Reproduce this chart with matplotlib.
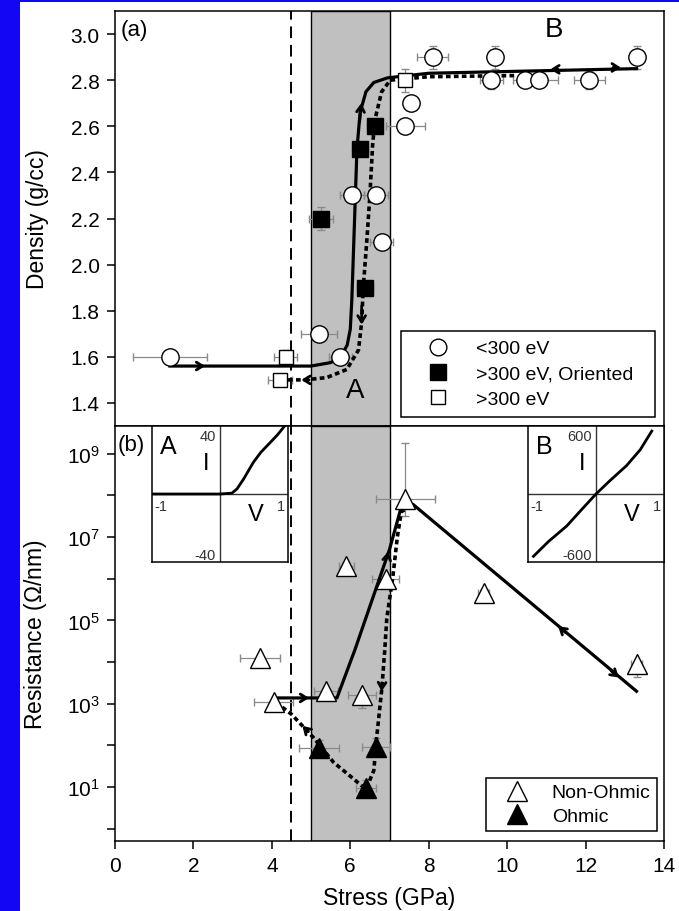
## density and resistance of carbon films vs stress, two stacked panels
import numpy as np
from matplotlib import pyplot as plt
from matplotlib.lines import Line2D
from matplotlib.patches import Rectangle

plt.rcParams['font.family'] = ['Liberation Sans', 'DejaVu Sans']
plt.rcParams['mathtext.fontset'] = 'custom'
plt.rcParams['mathtext.rm'] = 'Liberation Sans'
plt.rcParams['mathtext.it'] = 'Liberation Sans:italic'

## ---- panel (a): density ----
## <300 eV (open circles)
circ_x = [1.4, 5.2, 5.75, 6.05, 6.65, 6.8, 7.4, 7.55, 8.1, 9.7, 13.3, 9.6, 10.45, 10.8, 12.1]
circ_y = [1.6, 1.7, 1.6, 2.3, 2.3, 2.1, 2.6, 2.7, 2.9, 2.9, 2.9, 2.8, 2.8, 2.8, 2.8]
circ_xerr = [0.95, 0.45, 0.3, 0.3, 0.3, 0.3, 0.5, 0.1, 0.4, 0.0, 0.0, 0.3, 0.3, 0.5, 0.4]
circ_yerr = [0, 0, 0, 0.03, 0.03, 0, 0, 0, 0.05, 0.05, 0.05, 0.04, 0, 0, 0.04]
## >300 eV oriented (filled squares)
fsq_x = [5.25, 6.25, 6.62, 6.38]
fsq_y = [2.2, 2.5, 2.6, 1.9]
fsq_xerr = [0.3, 0.2, 0.2, 0.2]
fsq_yerr = [0.05, 0.03, 0.03, 0.03]
## >300 eV (open squares)
osq_x = [4.35, 4.21, 7.4]
osq_y = [1.6, 1.5, 2.8]
osq_xerr = [0.3, 0.3, 0.0]
osq_yerr = [0.03, 0.0, 0.05]

## guide curves (loading = solid, unloading = dotted)
load_a_x = [1.4, 5.0, 5.5, 5.75, 5.92, 6.0, 6.04, 6.08, 6.13, 6.17, 6.25, 6.4, 6.6, 6.95, 8.0, 13.3]
load_a_y = [1.56, 1.56, 1.575, 1.6, 1.65, 1.72, 1.85, 2.05, 2.3, 2.5, 2.66, 2.75, 2.79, 2.81, 2.83, 2.85]
unl_a_x = [4.21, 4.83, 5.4, 5.91, 6.21, 6.29, 6.33, 6.42, 6.5, 6.57, 6.63, 6.8, 7.02, 8.0, 10.2]
unl_a_y = [1.5, 1.5, 1.51, 1.545, 1.63, 1.75, 1.9, 2.1, 2.3, 2.52, 2.63, 2.75, 2.8, 2.815, 2.82]

## ---- panel (b): resistance (log10 of ohm/nm) ----
nonohm_x = [3.7, 4.05, 5.38, 6.3, 5.9, 6.9, 7.4, 9.4, 13.3]
nonohm_logr = [4.1, 3.05, 3.3, 3.2, 6.3, 6.0, 7.9, 5.65, 3.95]
nonohm_xerr = [0.5, 0.5, 0.3, 0.35, 0.2, 0.35, 0.75, 0.15, 0.15]
nonohm_dlo = [0.0, 0.0, 0.0, 0.3, 0.1, 0.0, 0.4, 0.1, 0.3]
nonohm_dhi = [0.0, 0.0, 0.0, 0.0, 0.1, 0.0, 1.35, 0.1, 0.0]
ohm_x = [5.2, 6.4, 6.65]
ohm_logr = [1.93, 0.97, 1.97]
ohm_xerr = [0.5, 0.25, 0.35]

load_b_x = [4.12, 5.66, 6.12, 7.0, 7.3, 7.6, 13.3]
load_b_logr = [3.14, 3.14, 4.3, 6.7, 7.72, 7.78, 3.3]
unl_b_x = [7.55, 7.3, 7.2, 7.09, 6.93, 6.88, 6.8, 6.67, 6.6, 6.4, 5.57, 5.05, 4.5, 4.15]
unl_b_logr = [7.75, 7.6, 7.0, 6.08, 5.04, 4.3, 3.32, 2.17, 1.4, 0.95, 1.6, 2.2, 2.75, 3.0]

## I-V insets
ivA_v = [-1.0, 0.0, 0.175, 0.25, 0.35, 0.49, 0.6, 0.72, 0.85, 0.95]
ivA_i = [0.0, 0.0, 0.5, 3.0, 9.0, 18.6, 24.5, 29.5, 35.0, 40.0]
ivB_v = [-0.92, -0.7, -0.43, -0.2, 0.0, 0.2, 0.45, 0.65, 0.82]
ivB_i = [-550, -420, -282, -130, 0, 115, 251, 390, 555]

ecol = '#8a8a8a'
dot = (0, (1.3, 0.9))

fig = plt.figure(figsize=(6.79, 9.12), dpi=100, facecolor='#1206f5')
fig.patches.append(Rectangle((20/679, 0), 1, 909/912, transform=fig.transFigure,
                             facecolor='white', edgecolor='none', zorder=-1))

axa = fig.add_axes([115/679, 1-427/912, 549/679, 415/912])
axb = fig.add_axes([115/679, 1-842/912, 549/679, 415/912])

def arrow(ax, x, y, dx, dy):
    ax.annotate('', xy=(x, y), xytext=(x-dx, y-dy),
                arrowprops=dict(arrowstyle='->,head_length=0.45,head_width=0.28',
                                lw=2, color='k', shrinkA=0, shrinkB=0), zorder=6)

for ax in (axa, axb):
    ax.axvspan(5, 7, facecolor='#c0c0c0', edgecolor='k', lw=1, zorder=0)
    ax.axvline(4.5, color='k', lw=1.4, ls=(0, (6, 3.5)), zorder=1)
    ax.set_xlim(0, 14)
    for s in ax.spines.values():
        s.set_linewidth(1.1)
    ax.tick_params(direction='out', length=5.5, width=1.1, pad=5.5, labelsize=15,
                   right=False, top=False)
    ax.yaxis.set_label_coords(-0.12, 0.5)

## panel (a)
axa.set_ylim(1.3, 3.1)
axa.set_yticks(np.arange(1.4, 3.01, 0.2))
axa.set_yticklabels(['%.1f' % v for v in np.arange(1.4, 3.01, 0.2)])
axa.tick_params(axis='x', bottom=False, labelbottom=False)
axa.set_ylabel('Density (g/cc)', fontsize=16.5)

axa.plot(load_a_x, load_a_y, color='k', lw=2.3, zorder=3)
axa.plot(unl_a_x, unl_a_y, color='k', lw=2.6, ls=dot, zorder=3)
arrow(axa, 2.3, 1.56, 0.2, 0)
arrow(axa, 6.28, 2.7, 0.04, 0.08)
arrow(axa, 11.1, 2.847, -0.2, 0)
arrow(axa, 12.9, 2.855, 0.2, 0)
arrow(axa, 6.29, 1.74, 0.0, -0.08)
arrow(axa, 4.75, 1.5, -0.2, 0)

axa.errorbar(circ_x, circ_y, xerr=circ_xerr, yerr=circ_yerr, fmt='none', ecolor=ecol,
             elinewidth=0.9, capsize=3, zorder=2)
axa.errorbar(fsq_x, fsq_y, xerr=fsq_xerr, yerr=fsq_yerr, fmt='none', ecolor=ecol,
             elinewidth=0.9, capsize=3, zorder=2)
axa.errorbar(osq_x, osq_y, xerr=osq_xerr, yerr=osq_yerr, fmt='none', ecolor=ecol,
             elinewidth=0.9, capsize=3, zorder=2)
axa.plot(circ_x, circ_y, 'o', ms=12.5, mfc='white', mec='k', mew=1, zorder=4)
axa.plot(fsq_x, fsq_y, 's', ms=11, mfc='k', mec='k', zorder=4)
axa.plot(osq_x, osq_y, 's', ms=10.5, mfc='white', mec='k', mew=1, zorder=4)

axa.text(0.01, 0.955, '(a)', transform=axa.transAxes, fontsize=16, va='center')
axa.text(6.12, 1.455, 'A', fontsize=20, ha='center', va='center')
axa.text(11.2, 3.02, 'B', fontsize=20, ha='center', va='center')

hA = [Line2D([], [], ls='none', marker='o', ms=12, mfc='white', mec='k'),
      Line2D([], [], ls='none', marker='s', ms=11, mfc='k', mec='k'),
      Line2D([], [], ls='none', marker='s', ms=10.5, mfc='white', mec='k')]
leg = axa.legend(hA, ['<300 eV', '>300 eV, Oriented', '>300 eV'], loc='lower left',
                 bbox_to_anchor=(0.521, 0.022, 0.463, 0.2), mode='expand', borderaxespad=0,
                 fontsize=14, fancybox=False, framealpha=1, edgecolor='k',
                 handletextpad=0.5, labelspacing=0.4, borderpad=0.45, handlelength=2.9)
leg.get_frame().set_linewidth(1.1)

## panel (b)
axb.set_yscale('log')
axb.set_ylim(10**-0.29, 10**9.66)
axb.set_yticks([10.0**k for k in range(0, 10)])
axb.set_yticklabels([r'$10^{%d}$' % k if k % 2 == 1 else '' for k in range(0, 10)])
axb.minorticks_off()
axb.set_xticks(range(0, 15, 2))
axb.set_xlabel('Stress (GPa)', fontsize=16.5)
axb.xaxis.set_label_coords(0.5, -0.108)
axb.set_ylabel(r'Resistance ($\Omega$/nm)', fontsize=16.5)

axb.plot(load_b_x, 10**np.array(load_b_logr), color='k', lw=2.3, zorder=3)
axb.plot(unl_b_x, 10**np.array(unl_b_logr), color='k', lw=2.6, ls=dot, zorder=3)
arrow(axb, 4.95, 10**3.14, 0.2, 0)
arrow(axb, 6.97, 10**6.65, 0.03, 10**6.65 - 10**6.5)
arrow(axb, 11.3, 10**4.86, -0.2, 10**4.86 - 10**4.70)
arrow(axb, 12.85, 10**3.63, 0.2, 10**3.63 - 10**3.79)
arrow(axb, 6.8, 10**3.3, -0.01, 10**3.3 - 10**3.5)
arrow(axb, 4.78, 10**2.47, -0.15, 10**2.47 - 10**2.33)

nr = np.array(nonohm_logr)
ny = 10**nr
axb.errorbar(nonohm_x, ny, xerr=nonohm_xerr,
             yerr=[ny - 10**(nr - np.array(nonohm_dlo)), 10**(nr + np.array(nonohm_dhi)) - ny],
             fmt='none', ecolor=ecol, elinewidth=0.9, capsize=3, zorder=2)
oy = 10**np.array(ohm_logr)
axb.errorbar(ohm_x, oy, xerr=ohm_xerr, yerr=[oy*0.35, oy*0.6], fmt='none', ecolor=ecol,
             elinewidth=0.9, capsize=3, zorder=2)
axb.plot(nonohm_x, ny, '^', ms=14, mfc='white', mec='k', mew=1, zorder=4)
axb.plot(ohm_x, oy, '^', ms=14, mfc='k', mec='k', zorder=4)

axb.text(0.005, 0.955, '(b)', transform=axb.transAxes, fontsize=16, va='center')

hB = [Line2D([], [], ls='none', marker='^', ms=14, mfc='white', mec='k'),
      Line2D([], [], ls='none', marker='^', ms=14, mfc='k', mec='k')]
leg = axb.legend(hB, ['Non-Ohmic', 'Ohmic'], loc='lower left',
                 bbox_to_anchor=(0.675, 0.025, 0.312, 0.13), mode='expand', borderaxespad=0,
                 fontsize=14, fancybox=False, framealpha=1, edgecolor='k',
                 handletextpad=0.5, labelspacing=0.3, borderpad=0.3, handlelength=2.6)
leg.get_frame().set_linewidth(1.1)

## I-V insets
def inset(left, v, i, lim, lab, top, bot):
    ax = fig.add_axes([left/679, 1-563/912, 136/679, 136/912])
    ax.set_xlim(-1, 1)
    ax.set_ylim(-lim, lim)
    ax.set_xticks([])
    ax.set_yticks([])
    for s in ax.spines.values():
        s.set_linewidth(1.1)
    ax.axhline(0, color='#333333', lw=1)
    ax.axvline(0, color='#333333', lw=1)
    ax.plot(v, i, color='k', lw=2)
    t = ax.transAxes
    ax.text(0.06, 0.85, lab, transform=t, fontsize=18, va='center')
    ax.text(0.47, 0.93, top, transform=t, fontsize=10.5, ha='right', va='center', color='#333333')
    ax.text(0.47, 0.05, bot, transform=t, fontsize=10.5, ha='right', va='center', color='#333333')
    ax.text(0.40, 0.73, 'I', transform=t, fontsize=17, ha='center', va='center')
    ax.text(0.76, 0.35, 'V', transform=t, fontsize=17, ha='center', va='center')
    ax.text(0.02, 0.41, '-1', transform=t, fontsize=10.5, va='center', color='#333333')
    ax.text(0.98, 0.41, '1', transform=t, fontsize=10.5, ha='right', va='center', color='#333333')
    return ax

inset(152, ivA_v, ivA_i, 40, 'A', '40', '-40')
inset(528, ivB_v, ivB_i, 600, 'B', '600', '-600')

fig.savefig('out.png', dpi=100, facecolor=fig.get_facecolor())
